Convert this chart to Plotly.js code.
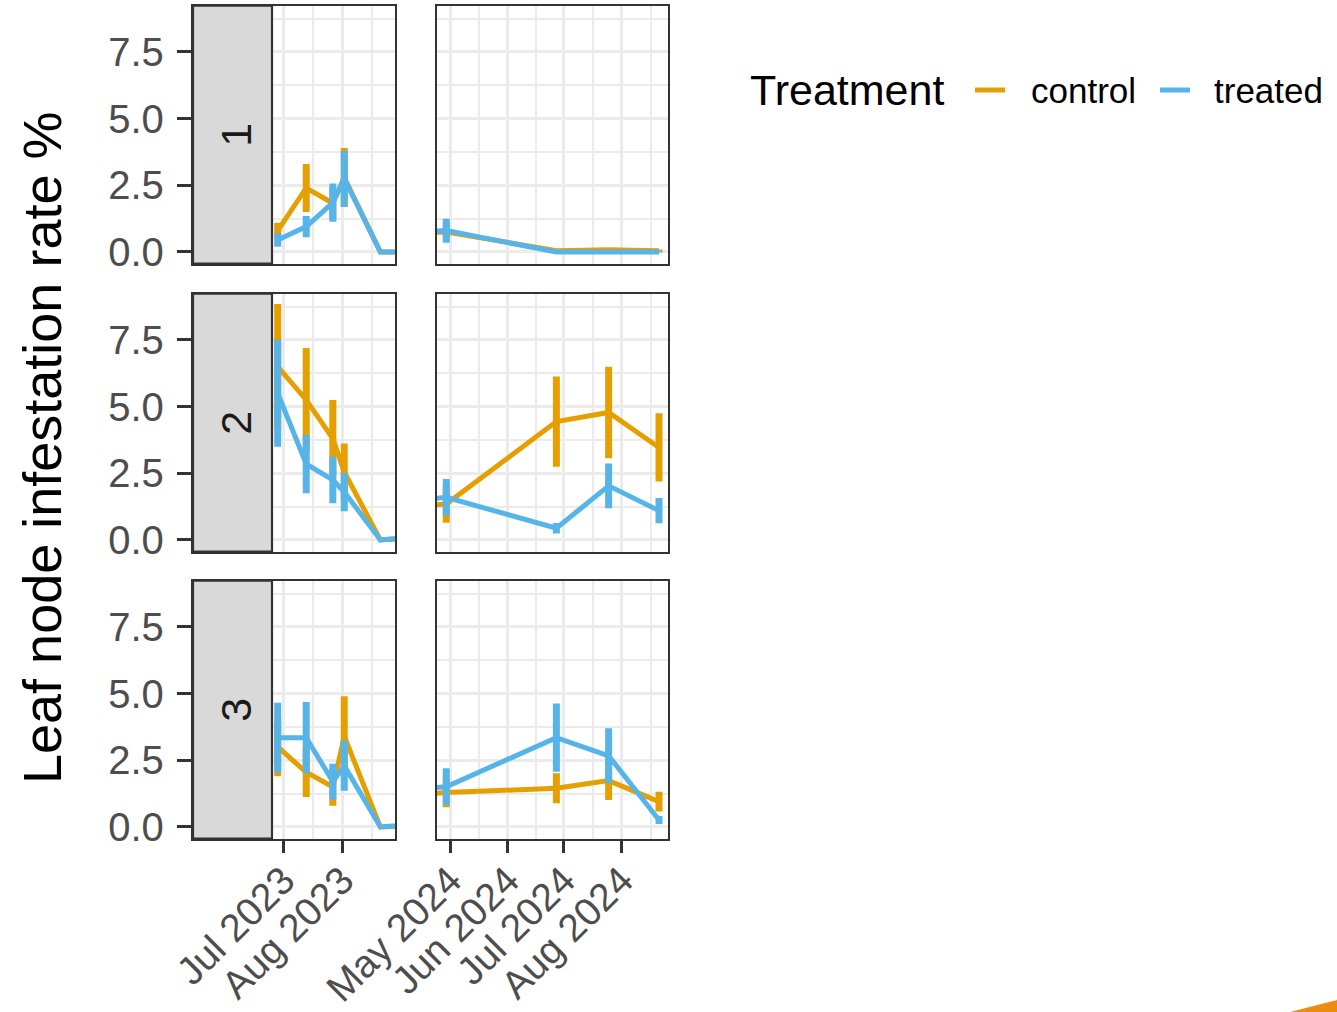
<!DOCTYPE html>
<html><head><meta charset="utf-8">
<script src="https://cdn.plot.ly/plotly-3.0.1.min.js"></script>
<style>html,body{margin:0;padding:0;background:#fff}</style>
</head><body><div id="chart" style="width:1337px;height:1012px"></div>
<script>
// ---------- data ----------
const dates = ['2023-06-28','2023-07-13','2023-07-27','2023-08-02','2023-08-21',
               '2024-04-29','2024-06-27','2024-07-25','2024-08-21'];
const facetRows = ['1','2','3'];
const treatments = ['control','treated'];

const control1     = [0.80, 2.40, 1.83, 2.80, 0, 0.75, 0.05, 0.08, 0.05];
const control1Err  = [0.30, 0.90, 0.60, 1.10, 0, 0.35, 0.04, 0.06, 0.04];
const treated1     = [0.45, 0.95, 1.85, 2.75, 0, 0.80, 0.00, 0.00, 0.00];
const treated1Err  = [0.25, 0.40, 0.72, 1.05, 0, 0.45, 0.02, 0.02, 0.02];

const control2     = [6.50, 5.25, 3.80, 2.55, 0, 1.35, 4.44, 4.78, 3.47];
const control2Err  = [2.35, 1.95, 1.45, 1.07, 0, 0.70, 1.69, 1.72, 1.28];
const treated2     = [5.50, 2.85, 2.25, 1.80, 0, 1.60, 0.44, 2.03, 1.10];
const treated2Err  = [2.00, 1.10, 0.87, 0.72, 0, 0.69, 0.20, 0.84, 0.47];

const control3     = [3.00, 2.05, 1.50, 3.40, 0, 1.29, 1.45, 1.74, 0.95];
const control3Err  = [1.10, 0.93, 0.70, 1.50, 0, 0.55, 0.56, 0.73, 0.37];
const treated3     = [3.35, 3.35, 1.70, 2.30, 0, 1.51, 3.35, 2.67, 0.26];
const treated3Err  = [1.31, 1.34, 0.67, 0.94, 0, 0.69, 1.28, 1.03, 0.15];

const tickVals2023 = ['2023-07-01','2023-08-01'];
const tickText2023 = ['Jul 2023','Aug 2023'];
const tickVals2024 = ['2024-05-01','2024-06-01','2024-07-01','2024-08-01'];
const tickText2024 = ['May 2024','Jun 2024','Jul 2024','Aug 2024'];
const minor2023 = ['2023-06-16','2023-07-16 12:00','2023-08-16 12:00'];
const minor2024 = ['2024-04-16','2024-05-16 12:00','2024-06-16','2024-07-16 12:00','2024-08-16 12:00'];

const seriesByRow = [
  {control:[control1,control1Err], treated:[treated1,treated1Err]},
  {control:[control2,control2Err], treated:[treated2,treated2Err]},
  {control:[control3,control3Err], treated:[treated3,treated3Err]}
];

// ---------- layout geometry ----------
const W = 1337, H = 1012;
const px = v => v / W;
const py = v => 1 - v / H;
const colors = {control:'#E69F00', treated:'#56B4E9'};
const colPix = [[193,395],[437,668]];
const colRange = [['2023-05-14 10:48','2023-08-28 16:34'],['2024-04-24 00:49','2024-08-25 19:27']];
const rowPix = [[5.7,263.7],[293.7,551.7],[580.7,838.7]];
const yRange = [-0.44, 9.235];
const font = 'Liberation Sans, Arial, Helvetica, sans-serif';
// legend placement (pixels): key start / text start per treatment
const legendPix = {control:[975, 1032], treated:[1160, 1215]};
const legendY = 90;

const traces = [];
const layout = {
  width: W, height: H,
  margin: {l:0, r:0, t:0, b:0, autoexpand: false},
  paper_bgcolor: '#fff', plot_bgcolor: '#fff',
  font: {family: font, color: '#000'},
  showlegend: false,
  shapes: [], annotations: []
};

for (let r = 0; r < 3; r++) {
  for (let c = 0; c < 2; c++) {
    const k = r * 2 + c + 1;
    const xa = 'xaxis' + (k === 1 ? '' : k);
    const ya = 'yaxis' + (k === 1 ? '' : k);
    const bottom = r === 2;
    layout[xa] = {
      type: 'date', domain: [px(colPix[c][0]), px(colPix[c][1])],
      range: colRange[c], anchor: 'y' + (k === 1 ? '' : k),
      tickmode: 'array',
      tickvals: c === 0 ? tickVals2023 : tickVals2024,
      ticktext: c === 0 ? tickText2023 : tickText2024,
      showticklabels: bottom, ticks: bottom ? 'outside' : '',
      ticklen: 12, tickwidth: 3, tickcolor: '#333', tickangle: -45,
      ticklabelstandoff: -11,
      tickfont: {size: 39, color: '#4D4D4D', family: font},
      showline: true, mirror: true, linecolor: '#333', linewidth: 2.2,
      showgrid: true, gridcolor: '#EBEBEB', gridwidth: 3, zeroline: false,
      minor: {tickmode: 'array', tickvals: c === 0 ? minor2023 : minor2024,
              showgrid: true, gridcolor: '#EBEBEB', gridwidth: 1.8, ticks: ''}
    };
    layout[ya] = {
      domain: [py(rowPix[r][1]), py(rowPix[r][0])],
      range: yRange, anchor: 'x' + (k === 1 ? '' : k),
      tick0: 0, dtick: 2.5, tickformat: '.1f',
      showticklabels: c === 0, ticks: c === 0 ? 'outside' : '',
      ticklen: 14, tickwidth: 3, tickcolor: '#333', ticklabelstandoff: 5,
      tickfont: {size: 40, color: '#4D4D4D', family: font},
      showline: true, mirror: true, linecolor: '#333', linewidth: 2.2,
      showgrid: true, gridcolor: '#EBEBEB', gridwidth: 3, zeroline: false,
      minor: {tick0: 0, dtick: 1.25, showgrid: true, gridcolor: '#EBEBEB', gridwidth: 1.8, ticks: ''}
    };
    treatments.forEach(t => {
      const [vals, errs] = seriesByRow[r][t];
      traces.push({
        type: 'scatter', mode: 'lines', x: dates, y: vals,
        name: t, legendgroup: t, showlegend: false,
        line: {color: colors[t], width: 5},
        error_y: {type: 'data', array: errs, visible: true, color: colors[t], thickness: 7, width: 0},
        xaxis: 'x' + (k === 1 ? '' : k), yaxis: 'y' + (k === 1 ? '' : k),
        hoverinfo: 'x+y+name'
      });
    });
  }
  // strip on the left of the first column
  layout.shapes.push({
    type: 'rect', xref: 'paper', yref: 'paper', layer: 'above',
    x0: px(193), x1: px(272), y0: py(rowPix[r][1]), y1: py(rowPix[r][0]),
    fillcolor: '#D9D9D9', line: {color: '#333', width: 2.2}
  });
  layout.annotations.push({
    text: facetRows[r], xref: 'paper', yref: 'paper', showarrow: false,
    x: px(236), y: py((rowPix[r][0] + rowPix[r][1]) / 2),
    xanchor: 'center', yanchor: 'middle', textangle: -90,
    font: {size: 43, color: '#1A1A1A', family: font}
  });
}

layout.annotations.push({
  text: 'Leaf node infestation rate %', xref: 'paper', yref: 'paper', showarrow: false,
  x: px(42), y: py(448), xanchor: 'center', yanchor: 'middle', textangle: -90,
  font: {size: 54, color: '#000', family: font}
});

// legend: title, keys and labels
layout.annotations.push({
  text: 'Treatment', xref: 'paper', yref: 'paper', showarrow: false,
  x: px(748), y: py(legendY), xanchor: 'left', yanchor: 'middle',
  font: {size: 43, color: '#000', family: font}
});
treatments.forEach(t => {
  layout.shapes.push({
    type: 'line', xref: 'paper', yref: 'paper', layer: 'above',
    x0: px(legendPix[t][0]), x1: px(legendPix[t][0] + 30),
    y0: py(legendY), y1: py(legendY),
    line: {color: colors[t], width: 5}
  });
  layout.annotations.push({
    text: t, xref: 'paper', yref: 'paper', showarrow: false,
    x: px(legendPix[t][1] - 3), y: py(legendY), xanchor: 'left', yanchor: 'middle',
    font: {size: 35, color: '#000', family: font}
  });
});

// small orange corner decoration
layout.shapes.push({
  type: 'path', xref: 'paper', yref: 'paper', layer: 'above',
  path: `M ${px(1290)},0 L 1,${(1012-1000)/1012} L 1,0 Z`,
  fillcolor: '#EE8C12', line: {width: 0}
});

Plotly.newPlot('chart', traces, layout, {displayModeBar: false, staticPlot: true});
</script>
</body></html>
